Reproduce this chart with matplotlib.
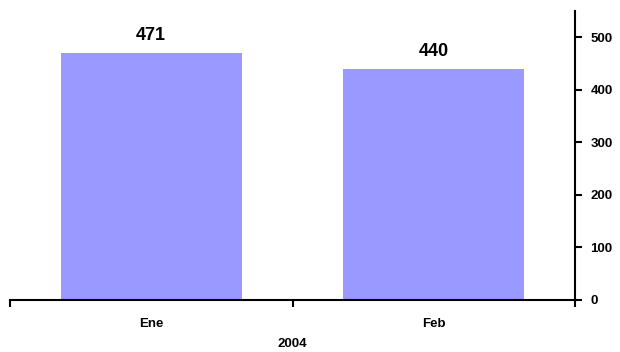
import numpy as np
import matplotlib.pyplot as plt

months = ['Ene', 'Feb']
values = [471, 440]
year_label = '2004'
y_ticks = [0, 100, 200, 300, 400, 500]

plt.rcParams['font.family'] = ['Liberation Sans', 'DejaVu Sans']

fig = plt.figure(figsize=(6.2, 3.52), dpi=100, facecolor='white')
ax = fig.add_axes((10/620, 1 - 300/352, 565/620, 289/352))

x = np.arange(len(months))
bars = ax.bar(x, values, width=0.64, color='#9999FF', zorder=2)

for xi, v in zip(x, values):
    ax.text(xi, v + 17, f'{v}', ha='center', va='bottom',
            fontsize=13, fontweight='bold')

ax.set_xlim(-0.5, len(months) - 0.5)
ax.set_ylim(0, 550)

# category axis: ticks at boundaries, labels at centres
ax.set_xticks(x)
ax.set_xticklabels(months, fontsize=9.5, fontweight='bold')
ax.set_xticks(np.arange(len(months) + 1) - 0.5, minor=True)
ax.tick_params(axis='x', which='major', length=0, pad=13)
ax.tick_params(axis='x', which='minor', length=5, width=1.5, direction='out')
ax.text(0.5, -0.13, year_label, transform=ax.transAxes, ha='center',
        va='top', fontsize=9.5, fontweight='bold')

# value axis on the right
ax.yaxis.tick_right()
ax.set_yticks(y_ticks)
ax.set_yticklabels([str(t) for t in y_ticks], fontsize=9.5, fontweight='bold')
ax.tick_params(axis='y', length=5, width=1.5, direction='out', pad=6)

for s in ['top', 'left']:
    ax.spines[s].set_visible(False)
for s in ['bottom', 'right']:
    ax.spines[s].set_linewidth(1.5)

plt.savefig('out.png', dpi=100)
